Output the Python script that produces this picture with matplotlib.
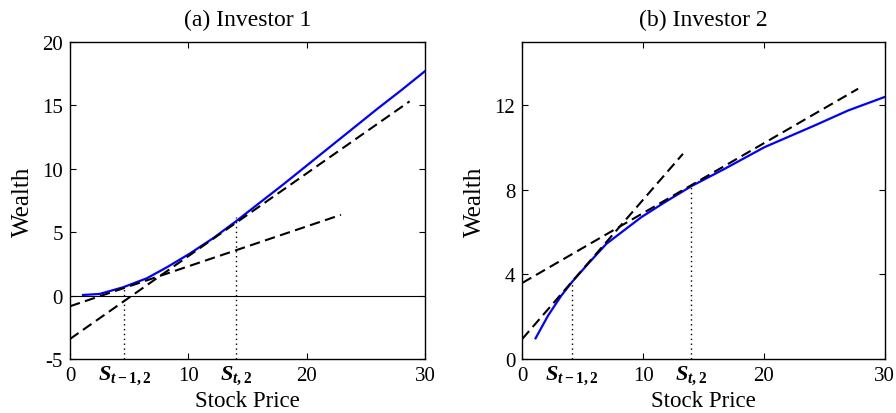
import matplotlib
matplotlib.use("Agg")
import matplotlib.pyplot as plt

plt.rcParams['font.family'] = ['Liberation Serif', 'DejaVu Serif']
plt.rcParams['axes.unicode_minus'] = False
plt.rcParams['mathtext.fontset'] = 'custom'
plt.rcParams['mathtext.it'] = 'Liberation Serif:italic:bold'
plt.rcParams['mathtext.rm'] = 'Liberation Serif:bold'
plt.rcParams['mathtext.bf'] = 'Liberation Serif:bold'

# ---- Investor 1 (panel a) ----
s_prev_a = 4.6
s_now_a = 14.0
price_a = [1.1, 2.5, 4.5, 6.5, 8.2, 10.1, 12.1, 14.0, 16.0, 18.0, 20.0, 22.0,
           24.0, 26.0, 28.0, 30.0]
wealth_a = [0.05, 0.13, 0.66, 1.37, 2.24, 3.3, 4.53, 5.84, 7.3, 8.75, 10.25,
            11.75, 13.25, 14.75, 16.2, 17.7]
# tangent lines: (x start, x end), (y start, y end)
tan1_a_x = [0.0, 22.9]
tan1_a_y = [-0.84, 6.37]
tan2_a_x = [0.0, 28.7]
tan2_a_y = [-3.42, 15.32]
dot_top_a = [0.55, 6.2]

# ---- Investor 2 (panel b) ----
s_prev_b = 4.1
s_now_b = 14.0
price_b = [1.1, 2.13, 3.23, 4.14, 5.44, 6.96, 9.85, 11.8, 14.0, 16.75, 20.07,
           24.2, 26.97, 30.0]
wealth_b = [0.98, 2.05, 3.0, 3.66, 4.5, 5.45, 6.71, 7.42, 8.18, 9.0, 10.03,
            11.05, 11.76, 12.4]
tan1_b_x = [0.0, 13.3]
tan1_b_y = [0.95, 9.71]
tan2_b_x = [0.0, 27.8]
tan2_b_y = [3.6, 12.79]
dot_top_b = [3.63, 8.13]

fig = plt.figure(figsize=(8.96, 4.14), dpi=100)
ax1 = fig.add_axes([0.0781, 0.1304, 0.3962, 0.7657])
ax2 = fig.add_axes([0.5829, 0.1304, 0.4045, 0.7657])

dash = (5, 2.6)


def draw(ax, px, wy, t1x, t1y, t2x, t2y, s_prev, s_now, dtop, ymin):
    ax.plot(px, wy, color='blue', lw=1.6, zorder=3)
    ax.plot(t1x, t1y, color='black', lw=1.5, dashes=dash, zorder=4)
    ax.plot(t2x, t2y, color='black', lw=1.5, dashes=dash, zorder=4)
    ax.plot([s_prev, s_prev], [ymin, dtop[0]], color='black', lw=1.0,
            dashes=(1, 2.5), zorder=2)
    ax.plot([s_now, s_now], [ymin, dtop[1]], color='black', lw=1.0,
            dashes=(1, 2.5), zorder=2)
    ax.set_xlim(0, 30)
    ax.set_xticks([0, 10, 20, 30])
    ax.set_xticks([s_prev, s_now], minor=True)
    ax.set_xticklabels([r'$S_{t-1,2}$', r'$S_{t,2}$'], minor=True, fontsize=16)
    ax.tick_params(which='major', direction='in', top=True, right=True,
                   length=4, width=0.8, labelsize=15, pad=5)
    ax.tick_params(axis='x', which='minor', length=0, pad=3)
    ax.tick_params(axis='y', which='minor', left=False, right=False)
    ax.set_xlabel('Stock Price', fontsize=16.5, va='center')
    ax.xaxis.set_label_coords(0.5, -0.13)
    ax.set_ylabel('Wealth', fontsize=18, labelpad=6)
    for sp in ax.spines.values():
        sp.set_linewidth(1.0)


draw(ax1, price_a, wealth_a, tan1_a_x, tan1_a_y, tan2_a_x, tan2_a_y,
     s_prev_a, s_now_a, dot_top_a, -5)
ax1.axhline(0, color='black', lw=0.8, zorder=1)
ax1.set_ylim(-5, 20)
ax1.set_yticks([-5, 0, 5, 10, 15, 20])
ax1.set_title('(a) Investor 1', fontsize=17, pad=12)

draw(ax2, price_b, wealth_b, tan1_b_x, tan1_b_y, tan2_b_x, tan2_b_y,
     s_prev_b, s_now_b, dot_top_b, 0)
ax2.set_ylim(0, 15)
ax2.set_yticks([0, 4, 8, 12])
ax2.set_title('(b) Investor 2', fontsize=17, pad=12)

fig.savefig('out.png', dpi=100)
